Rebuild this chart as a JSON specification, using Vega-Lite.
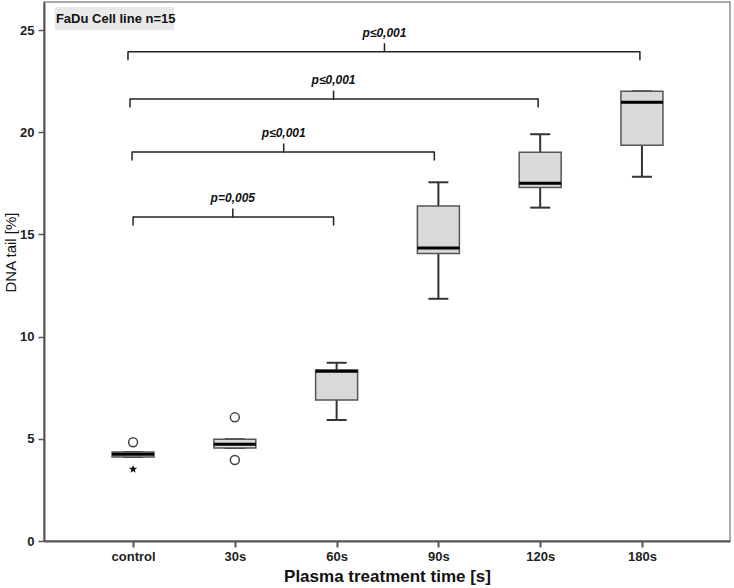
{
  "$schema": "https://vega.github.io/schema/vega-lite/v6.json",
  "width": 686,
  "height": 539,
  "autosize": {"type": "none"},
  "padding": {"left": 44, "top": 2, "right": 4, "bottom": 47},
  "background": "white",
  "config": {
    "font": "Liberation Sans",
    "view": {"stroke": "#8f8f8f", "strokeWidth": 1.5},
    "tick": {"opacity": 1},
    "point": {"opacity": 1},
    "axisX": {
      "grid": false,
      "domainColor": "#555555", "domainWidth": 2,
      "tickColor": "#555555", "tickWidth": 2, "tickSize": 6,
      "labelFontSize": 13, "labelFontWeight": "bold", "labelColor": "#222222", "labelPadding": 3,
      "titleFontSize": 17, "titleFontWeight": "bold", "titleColor": "#111111", "titlePadding": 5
    },
    "axisY": {
      "grid": false,
      "domainColor": "#555555", "domainWidth": 2,
      "tickColor": "#555555", "tickWidth": 1.5, "tickSize": 6,
      "labelFontSize": 13, "labelFontWeight": "bold", "labelColor": "#222222", "labelPadding": 4,
      "titleFontSize": 15, "titleFontWeight": "normal", "titleColor": "#111111", "titlePadding": 1, "titleY": 250
    }
  },
  "datasets": {
    "boxes": [
      {"group": "control", "pos": 1, "min": 4.11, "q1": 4.11, "median": 4.25, "q3": 4.35, "max": 4.35},
      {"group": "30s", "pos": 2, "min": 4.55, "q1": 4.55, "median": 4.73, "q3": 4.98, "max": 4.98},
      {"group": "60s", "pos": 3, "min": 5.92, "q1": 6.9, "median": 8.3, "q3": 8.37, "max": 8.72},
      {"group": "90s", "pos": 4, "min": 11.85, "q1": 14.06, "median": 14.33, "q3": 16.39, "max": 17.55},
      {"group": "120s", "pos": 5, "min": 16.31, "q1": 17.29, "median": 17.5, "q3": 19.02, "max": 19.9},
      {"group": "180s", "pos": 6, "min": 17.82, "q1": 19.36, "median": 21.46, "q3": 22.0, "max": 22.0}
    ],
    "outliers": [
      {"group": "control", "pos": 1, "value": 4.83, "kind": "outlier"},
      {"group": "control", "pos": 1, "value": 3.51, "kind": "extreme"},
      {"group": "30s", "pos": 2, "value": 6.05, "kind": "outlier"},
      {"group": "30s", "pos": 2, "value": 3.96, "kind": "outlier"}
    ],
    "brackets": [
      {"x1": 0.95, "x2": 5.98, "cx": 3.47, "y": 23.94, "label": "p≤0,001"},
      {"x1": 0.97, "x2": 4.98, "cx": 2.97, "y": 21.62, "label": "p≤0,001"},
      {"x1": 0.99, "x2": 3.96, "cx": 2.48, "y": 19.03, "label": "p≤0,001"},
      {"x1": 1.0, "x2": 2.97, "cx": 1.98, "y": 15.85, "label": "p=0,005"}
    ],
    "note": [
      {"x1": 0.232, "x2": 1.404, "y1": 25.0, "y2": 26.13, "text": "FaDu Cell line n=15"}
    ]
  },
  "layer": [
    {
      "data": {"name": "boxes"},
      "mark": {"type": "rule", "color": "#333333", "strokeWidth": 2},
      "encoding": {
        "x": {
          "field": "pos", "type": "quantitative", "title": "Plasma treatment time [s]",
          "scale": {"domain": [0.174, 6.816], "nice": false, "zero": false},
          "axis": {
            "values": [1, 2, 3, 4, 5, 6],
            "labelExpr": "['control','30s','60s','90s','120s','180s'][datum.value - 1]"
          }
        },
        "y": {
          "field": "min", "type": "quantitative", "title": "DNA tail [%]",
          "scale": {"domain": [0, 26.37], "nice": false, "zero": false},
          "axis": {"values": [0, 5, 10, 15, 20, 25]}
        },
        "y2": {"field": "max"}
      }
    },
    {
      "data": {"name": "note"},
      "mark": {"type": "rect", "fill": "#e8e8e8"},
      "encoding": {
        "x": {"field": "x1", "type": "quantitative", "title": "Plasma treatment time [s]"},
        "x2": {"field": "x2"},
        "y": {"field": "y1", "type": "quantitative", "title": "DNA tail [%]"},
        "y2": {"field": "y2"}
      }
    },
    {
      "data": {"name": "note"},
      "mark": {"type": "text", "align": "left", "baseline": "middle", "dx": 1, "dy": -11, "fontSize": 13, "fontWeight": "bold", "color": "#111111"},
      "encoding": {
        "x": {"field": "x1", "type": "quantitative", "title": "Plasma treatment time [s]"},
        "y": {"field": "y1", "type": "quantitative", "title": "DNA tail [%]"},
        "text": {"field": "text"}
      }
    },
    {
      "data": {"name": "boxes"},
      "mark": {"type": "tick", "orient": "horizontal", "size": 20, "thickness": 2, "color": "#333333"},
      "encoding": {
        "x": {"field": "pos", "type": "quantitative", "title": "Plasma treatment time [s]"},
        "y": {"field": "min", "type": "quantitative", "title": "DNA tail [%]"}
      }
    },
    {
      "data": {"name": "boxes"},
      "mark": {"type": "tick", "orient": "horizontal", "size": 20, "thickness": 2, "color": "#333333"},
      "encoding": {
        "x": {"field": "pos", "type": "quantitative", "title": "Plasma treatment time [s]"},
        "y": {"field": "max", "type": "quantitative", "title": "DNA tail [%]"}
      }
    },
    {
      "data": {"name": "boxes"},
      "mark": {"type": "bar", "width": 42, "fill": "#d9d9d9", "stroke": "#555555", "strokeWidth": 1.5, "opacity": 1},
      "encoding": {
        "x": {"field": "pos", "type": "quantitative", "title": "Plasma treatment time [s]"},
        "y": {"field": "q1", "type": "quantitative", "title": "DNA tail [%]"},
        "y2": {"field": "q3"}
      }
    },
    {
      "data": {"name": "boxes"},
      "mark": {"type": "tick", "orient": "horizontal", "size": 42, "thickness": 3, "color": "#000000"},
      "encoding": {
        "x": {"field": "pos", "type": "quantitative", "title": "Plasma treatment time [s]"},
        "y": {"field": "median", "type": "quantitative", "title": "DNA tail [%]"}
      }
    },
    {
      "data": {"name": "outliers"},
      "transform": [{"filter": "datum.kind === 'outlier'"}],
      "mark": {"type": "point", "shape": "circle", "filled": false, "size": 80, "stroke": "#444444", "strokeWidth": 1.5},
      "encoding": {
        "x": {"field": "pos", "type": "quantitative", "title": "Plasma treatment time [s]"},
        "y": {"field": "value", "type": "quantitative", "title": "DNA tail [%]"}
      }
    },
    {
      "data": {"name": "outliers"},
      "transform": [{"filter": "datum.kind === 'extreme'"}],
      "mark": {"type": "point", "shape": "M0,-1L0.235,-0.324L0.951,-0.309L0.38,0.124L0.588,0.809L0,0.4L-0.588,0.809L-0.38,0.124L-0.951,-0.309L-0.235,-0.324Z", "filled": true, "size": 80, "color": "#111111"},
      "encoding": {
        "x": {"field": "pos", "type": "quantitative", "title": "Plasma treatment time [s]"},
        "y": {"field": "value", "type": "quantitative", "title": "DNA tail [%]"}
      }
    },
    {
      "data": {"name": "brackets"},
      "mark": {"type": "rule", "color": "#222222", "strokeWidth": 1.5},
      "encoding": {
        "x": {"field": "x1", "type": "quantitative", "title": "Plasma treatment time [s]"},
        "x2": {"field": "x2"},
        "y": {"field": "y", "type": "quantitative", "title": "DNA tail [%]"}
      }
    },
    {
      "data": {"name": "brackets"},
      "mark": {"type": "tick", "orient": "vertical", "size": 9, "thickness": 1.5, "color": "#222222", "yOffset": 4},
      "encoding": {
        "x": {"field": "x1", "type": "quantitative", "title": "Plasma treatment time [s]"},
        "y": {"field": "y", "type": "quantitative", "title": "DNA tail [%]"}
      }
    },
    {
      "data": {"name": "brackets"},
      "mark": {"type": "tick", "orient": "vertical", "size": 9, "thickness": 1.5, "color": "#222222", "yOffset": 4},
      "encoding": {
        "x": {"field": "x2", "type": "quantitative", "title": "Plasma treatment time [s]"},
        "y": {"field": "y", "type": "quantitative", "title": "DNA tail [%]"}
      }
    },
    {
      "data": {"name": "brackets"},
      "mark": {"type": "tick", "orient": "vertical", "size": 9, "thickness": 1.5, "color": "#222222", "yOffset": -4},
      "encoding": {
        "x": {"field": "cx", "type": "quantitative", "title": "Plasma treatment time [s]"},
        "y": {"field": "y", "type": "quantitative", "title": "DNA tail [%]"}
      }
    },
    {
      "data": {"name": "brackets"},
      "mark": {"type": "text", "baseline": "middle", "align": "center", "dy": -19, "fontSize": 12, "fontWeight": "bold", "fontStyle": "italic", "color": "#111111"},
      "encoding": {
        "x": {"field": "cx", "type": "quantitative", "title": "Plasma treatment time [s]"},
        "y": {"field": "y", "type": "quantitative", "title": "DNA tail [%]"},
        "text": {"field": "label"}
      }
    }
  ]
}
